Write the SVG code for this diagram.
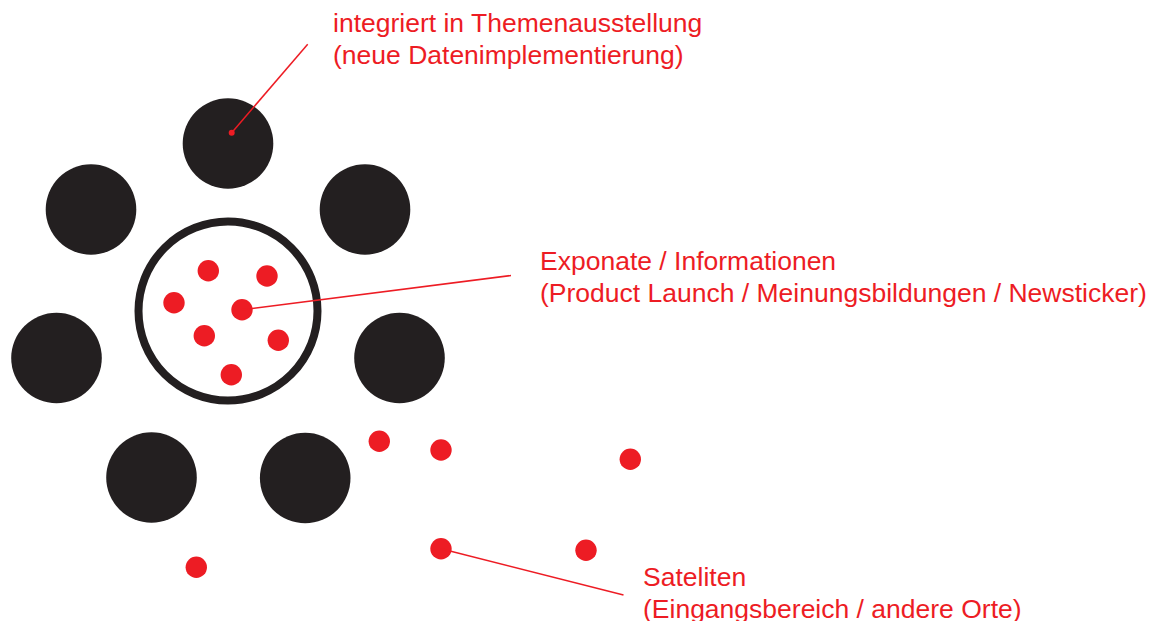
<svg xmlns="http://www.w3.org/2000/svg" width="1153" height="621" viewBox="0 0 1153 621">
<style>
.big{fill:#231f20}
.ring{fill:none;stroke:#231f20;stroke-width:8}
.dot{fill:#ed1c24}
.lead{stroke:#ed1c24;stroke-width:1.5;fill:none}
.lbl{font-family:"Liberation Sans",Arial,Helvetica,sans-serif;font-size:26.5px;fill:#ed1c24}
</style>
<rect width="1153" height="621" fill="#ffffff"/>
<g id="outer-circles">
<circle id="c-top" class="big" cx="228" cy="143.5" r="45.3"/>
<circle id="c-upper-left" class="big" cx="91" cy="209.5" r="45.3"/>
<circle id="c-upper-right" class="big" cx="365" cy="209.5" r="45.3"/>
<circle id="c-left" class="big" cx="56.5" cy="358" r="45.3"/>
<circle id="c-right" class="big" cx="399.5" cy="358" r="45.3"/>
<circle id="c-bottom-left" class="big" cx="151.5" cy="477.5" r="45.3"/>
<circle id="c-bottom-right" class="big" cx="305.2" cy="478" r="45.3"/>
</g>
<g id="center-ring">
<circle class="ring" cx="228" cy="311" r="89.5"/>
<circle class="dot" cx="208.3" cy="270.7" r="10.7"/>
<circle class="dot" cx="267" cy="276" r="10.7"/>
<circle class="dot" cx="174" cy="302.7" r="10.7"/>
<circle class="dot" cx="242" cy="309.7" r="10.7"/>
<circle class="dot" cx="204.3" cy="335.7" r="10.7"/>
<circle class="dot" cx="278.3" cy="340.3" r="10.7"/>
<circle class="dot" cx="231.3" cy="374.7" r="10.7"/>
</g>
<g id="satellites">
<circle class="dot" cx="379.3" cy="441.3" r="10.7"/>
<circle class="dot" cx="441" cy="450" r="10.7"/>
<circle class="dot" cx="630.3" cy="459.3" r="10.7"/>
<circle class="dot" cx="441" cy="548.7" r="10.7"/>
<circle class="dot" cx="586" cy="550.3" r="10.7"/>
<circle class="dot" cx="196.3" cy="567.3" r="10.7"/>
</g>
<g id="connectors">
<line class="lead" x1="307.7" y1="44.3" x2="231.7" y2="132.7"/>
<circle class="dot" cx="231.7" cy="132.7" r="3"/>
<line class="lead" x1="242" y1="309.7" x2="511" y2="275.5"/>
<line class="lead" x1="441" y1="548.7" x2="623.5" y2="595"/>
</g>
<g id="label-top">
<text class="lbl" x="333" y="32">integriert in Themenausstellung</text>
<text class="lbl" x="333" y="64">(neue Datenimplementierung)</text>
</g>
<g id="label-middle">
<text class="lbl" x="540" y="270">Exponate / Informationen</text>
<text class="lbl" x="540" y="302">(Product Launch / Meinungsbildungen / Newsticker)</text>
</g>
<g id="label-bottom">
<text class="lbl" x="643" y="586">Sateliten</text>
<text class="lbl" x="643" y="618">(Eingangsbereich / andere Orte)</text>
</g>
</svg>
